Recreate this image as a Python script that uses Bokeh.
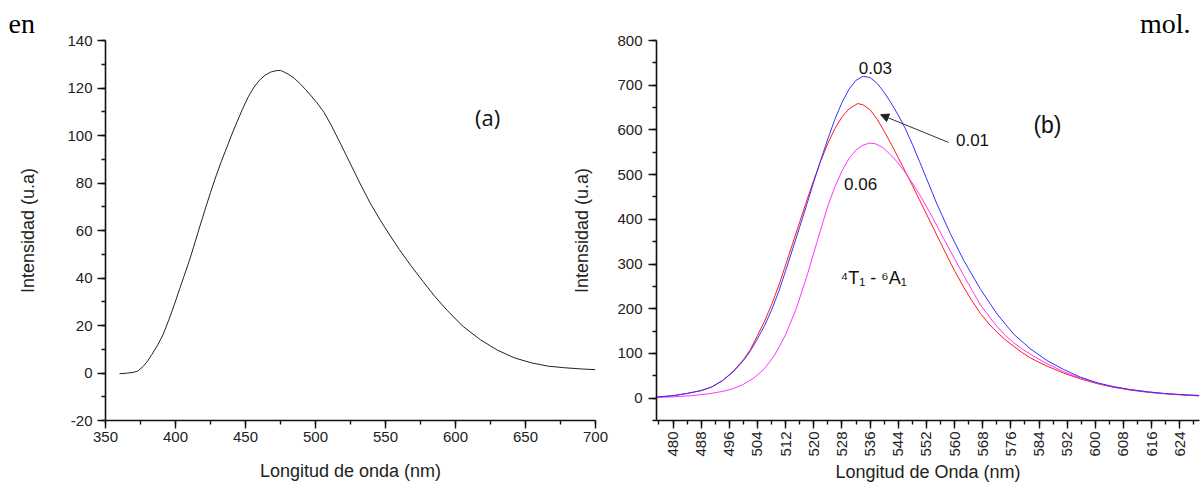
import math
from bokeh.plotting import figure
from bokeh.layouts import row
from bokeh.models import Range1d, SingleIntervalTicker, Label, Arrow, NormalHead, PrintfTickFormatter
from bokeh.embed import file_html
from bokeh.resources import INLINE

# ---------------- data (a) ----------------
wl_a = [360, 365, 370, 373, 377, 380, 383, 387, 391, 395, 399, 403, 406, 410, 413, 417,
        421, 425, 429, 433, 437, 441, 444, 448, 452, 456, 460, 464, 468, 472, 475, 478,
        481, 485, 489, 493, 497, 501, 506, 511, 518, 525, 532, 539, 546, 553, 560, 568,
        577, 585, 594, 605, 618, 630, 642, 654, 666, 678, 690, 700]
int_a = [-0.3, -0.1, 0.3, 0.8, 2.8, 5.0, 7.7, 11.5, 16.0, 22.0, 28.5, 35.5, 40.6, 47.5, 53.2, 61.0,
         68.6, 76.0, 83.0, 89.5, 95.5, 101.6, 105.8, 111.3, 116.3, 120.3, 123.3, 125.4, 126.7, 127.3, 127.4, 126.6,
         125.7, 124.0, 121.8, 119.3, 116.6, 113.8, 109.8, 104.6, 96.4, 88.0, 79.6, 71.6, 64.6, 58.1, 51.9, 45.3,
         38.4, 32.4, 26.4, 19.8, 13.9, 9.6, 6.4, 4.3, 2.9, 2.2, 1.7, 1.4]

# ---------------- data (b) ----------------
wl_003 = [475.5, 480, 484, 488, 491, 494, 497, 500, 502, 504, 506, 508, 510, 512, 514, 516, 518, 520,
          522, 524, 526, 528, 530, 532, 534, 536, 538, 540, 542, 544, 546, 548, 550, 552, 555, 558.8,
          562.6, 567.4, 572.1, 576.8, 581.6, 586.3, 591, 595.8, 600.5, 605, 610, 615, 619.4, 624, 629.5]
int_003 = [2.5, 5.5, 10.5, 17, 25, 39, 58, 84, 106, 133, 162, 197, 238, 285, 334, 383, 433, 484,
           533, 580, 624, 661, 691, 711, 720, 717, 704, 684, 660, 633, 603, 568, 530, 492, 434, 368,
           308, 243, 188, 143, 110, 84, 64, 47, 34.5, 26, 19, 14, 10.5, 8, 6]

wl_001 = [475.5, 480, 484, 488, 491, 494, 497, 500, 502, 504, 506, 508, 510, 512, 514, 516, 518, 520,
          522, 524, 526, 528, 530, 532.5, 534, 536, 538, 540, 542, 544, 546, 548, 550, 552, 554, 556,
          558, 560, 562.6, 565, 567.4, 570, 572.1, 574.5, 576.8, 579, 581.6, 584, 586.3, 591, 595.8,
          600.5, 605, 610, 615, 619.4, 624, 629.5]
int_001 = [2.5, 5.5, 10.5, 17, 25, 39, 59, 86, 109, 140, 172, 209, 251, 298, 346, 394, 442, 488,
           531, 570, 603, 629, 647, 659, 656, 645, 624, 597, 568, 538, 507, 476, 444, 412, 380, 348,
           316, 285, 248, 217, 189, 164, 147, 130, 116, 103, 90, 80, 71.5, 56, 43,
           32.5, 24.5, 18, 13, 10, 7.5, 5]

wl_006 = [475.5, 480, 485, 490, 494, 497, 500, 503, 506, 509, 512, 515, 518, 521, 524, 526, 528, 530,
          532, 534, 535.8, 537.5, 539.5, 541.5, 543.5, 545.5, 547.5, 550, 553, 556.9, 560, 562.6, 565,
          567.4, 570, 572.1, 574.5, 576.8, 579, 581.6, 584, 586.3, 591, 595.8, 600.5, 605, 610, 615,
          619.4, 624, 629.5]
int_006 = [1.5, 3, 5.5, 9.5, 15, 21, 31, 45, 66, 98, 142, 200, 272, 352, 430, 473, 508, 536,
           555, 566, 570.5, 569, 561, 547, 530, 510, 487, 456, 415, 357, 312, 274, 241,
           208, 181, 160, 140, 124, 111, 98, 87, 77, 59, 45, 33.5, 25.5, 19, 14,
           10.5, 8, 5.8]

TICK_FONT = "Liberation Sans"


def style_axes(p, xint, yint):
    p.xgrid.visible = False
    p.ygrid.visible = False
    p.outline_line_color = None
    p.xaxis.ticker = SingleIntervalTicker(interval=xint, num_minor_ticks=2)
    p.yaxis.ticker = SingleIntervalTicker(interval=yint, num_minor_ticks=2)
    p.xaxis.formatter = PrintfTickFormatter(format="%d")
    p.yaxis.formatter = PrintfTickFormatter(format="%d")
    for ax in (p.xaxis[0], p.yaxis[0]):
        ax.axis_line_width = 1.6
        ax.axis_line_color = "#111111"
        ax.major_tick_line_color = "#111111"
        ax.minor_tick_line_color = "#111111"
        ax.major_tick_line_width = 1.4
        ax.minor_tick_line_width = 1.4
        ax.major_tick_in = 0
        ax.major_tick_out = 8
        ax.minor_tick_in = 0
        ax.minor_tick_out = 4
        ax.major_label_text_font = TICK_FONT
        ax.major_label_text_font_size = "15px"
        ax.major_label_text_color = "#222222"
        ax.axis_label_text_font = TICK_FONT
        ax.axis_label_text_font_size = "18px"
        ax.axis_label_text_font_style = "normal"
        ax.axis_label_text_color = "#222222"


def page_title(p, text, align, offset):
    p.title.text = text
    p.title.align = align
    p.title.offset = offset
    p.title.text_font = "Liberation Serif"
    p.title.text_font_size = "28px"
    p.title.text_font_style = "normal"
    p.title.text_color = "#000000"
    p.title.standoff = 0
    p.title.vertical_align = "top"


# ---------------- figure (a) ----------------
p1 = figure(width=610, height=488, x_range=Range1d(350, 700), y_range=Range1d(-20, 140),
            output_backend="svg", toolbar_location=None,
            min_border_left=105, min_border_right=15, min_border_top=40, min_border_bottom=67)
style_axes(p1, 50, 20)
page_title(p1, "en", "left", -97)
p1.xaxis.axis_label = "Longitud de onda (nm)"
p1.yaxis.axis_label = "Intensidad (u.a)"
p1.xaxis.major_label_standoff = 3
p1.yaxis.major_label_standoff = 5
p1.xaxis.axis_label_standoff = 16
p1.yaxis.axis_label_standoff = 26
p1.line(wl_a, int_a, line_color="#222222", line_width=1)
p1.add_layout(Label(x=622.9, y=107.7, text="(a)", text_font="Open Sans", text_font_size="22px",
                    text_align="center", text_baseline="middle", text_color="#111111"))

# ---------------- figure (b) ----------------
p2 = figure(width=640, height=488, x_range=Range1d(475.3, 629.6), y_range=Range1d(-50, 800),
            output_backend="svg", toolbar_location=None,
            min_border_left=96, min_border_right=1, min_border_top=37, min_border_bottom=68)
p2.margin = (0, 0, 0, -50)
p2.background_fill_color = None
p2.border_fill_color = None
style_axes(p2, 8, 100)
page_title(p2, "mol.", "right", 9)
p2.xaxis.axis_label = "Longitud de Onda (nm)"
p2.yaxis.axis_label = "Intensidad (u.a)"
p2.xaxis.major_label_orientation = math.pi / 2
p2.xaxis.major_label_standoff = 3
p2.yaxis.major_label_standoff = 6
p2.xaxis.axis_label_standoff = 2
p2.yaxis.axis_label_standoff = 22

p2.line(wl_001, int_001, line_color="#ff1a1a", line_width=1)
p2.line(wl_006, int_006, line_color="#ff33ff", line_width=1)
p2.line(wl_003, int_003, line_color="#3333ff", line_width=1)

for txt, xx, yy in (("0.03", 537.5, 738.5), ("0.06", 533.3, 479.0), ("0.01", 565.1, 576.5)):
    p2.add_layout(Label(x=xx, y=yy, text=txt, text_font=TICK_FONT, text_font_size="17px",
                        text_align="center", text_baseline="middle", text_color="#111111"))
p2.add_layout(Label(x=586.4, y=612, text="(b)", text_font=TICK_FONT, text_font_size="23px",
                    text_align="center", text_baseline="middle", text_color="#111111"))
p2.add_layout(Label(x=537.0, y=268, text="\u2074T\u2081 - \u2076A\u2081", text_font=TICK_FONT,
                    text_font_size="18px", text_align="center", text_baseline="middle",
                    text_color="#111111"))
p2.add_layout(Arrow(end=NormalHead(size=8, fill_color="#222222", line_color="#222222"),
                    x_start=558.3, y_start=572, x_end=539.0, y_end=634,
                    line_color="#333333", line_width=1))

layout = row(p1, p2, spacing=0)
open("out.html", "w").write(file_html(layout, INLINE))
